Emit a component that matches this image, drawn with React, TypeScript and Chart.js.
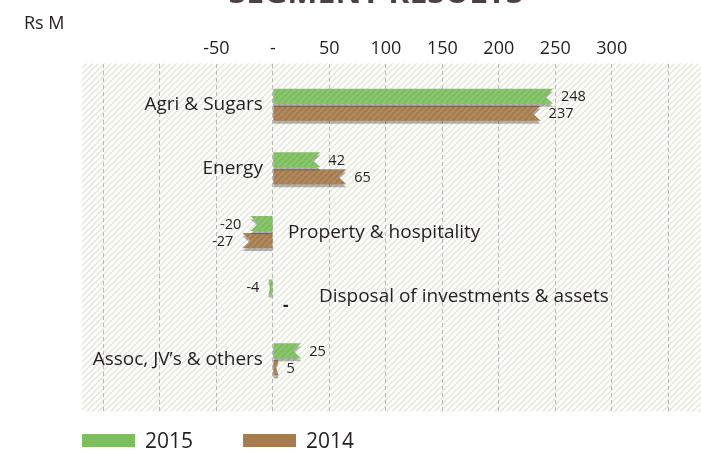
import React, { useEffect, useRef } from 'react';
import { Chart, registerables } from 'chart.js';

Chart.register(...registerables);

// ---- data ----
const titleText = 'SEGMENT RESULTS';
const unitLabel = 'Rs M';
const categories = [
  'Agri & Sugars',
  'Energy',
  'Property & hospitality',
  'Disposal of investments & assets',
  'Assoc, JV\u2019s & others',
];
const seriesLabels = ['2015', '2014'];
const values2015 = [248, 42, -20, -4, 25];
const values2014 = [237, 65, -27, 0, 5];
const gridTickValues = [-150, -100, -50, 0, 50, 100, 150, 200, 250, 300, 350];
const labelledTickValues = [-50, 0, 50, 100, 150, 200, 250, 300];

// ---- style ----
const FONT = '"Open Sans", "Noto Sans", sans-serif';
const TEXT = '#231f20';
const COLORS = ['#7dbf5f', '#a67c4f'];

function makeHatch(color: string, size: number, width: number, bg?: string) {
  const c = document.createElement('canvas');
  c.width = size;
  c.height = size;
  const g = c.getContext('2d')!;
  if (bg) {
    g.fillStyle = bg;
    g.fillRect(0, 0, size, size);
  }
  g.strokeStyle = color;
  g.lineWidth = width;
  g.beginPath();
  g.moveTo(-1, size + 1);
  g.lineTo(size + 1, -1);
  g.moveTo(-1, 1);
  g.lineTo(1, -1);
  g.moveTo(size - 1, size + 1);
  g.lineTo(size + 1, size - 1);
  g.stroke();
  return c;
}

function fmt(v: number) {
  return v === 0 ? '-' : String(v);
}

const decorPlugin = {
  id: 'decor',
  beforeDraw(chart: any) {
    const { ctx, chartArea: a } = chart;
    ctx.save();
    const pat = ctx.createPattern(makeHatch('#e3e6d3', 6, 1.4, '#ffffff'), 'repeat');
    ctx.fillStyle = pat;
    ctx.fillRect(a.left, a.top, a.right - a.left, a.bottom - a.top);

    // title (cut off at the top like the reference)
    ctx.fillStyle = '#4b4143';
    ctx.font = `bold 32px ${FONT}`;
    ctx.textAlign = 'center';
    ctx.textBaseline = 'alphabetic';
    ctx.fillText(titleText, 376, 3);

    // unit label
    ctx.fillStyle = TEXT;
    ctx.font = `18px ${FONT}`;
    ctx.textAlign = 'left';
    ctx.textBaseline = 'middle';
    ctx.fillText(unitLabel, 24, 24);

    // legend
    ctx.font = `21px ${FONT}`;
    let x = a.left;
    chart.data.datasets.forEach((ds: any) => {
      ctx.fillStyle = ds.backgroundColor;
      ctx.fillRect(x, 434, 53, 13);
      ctx.fillStyle = TEXT;
      ctx.fillText(ds.label, x + 63, 442);
      x += 53 + 10 + ctx.measureText(ds.label).width + 50;
    });
    ctx.restore();
  },
  beforeDatasetsDraw(chart: any) {
    const { ctx } = chart;
    const xScale = chart.scales.x;
    const yScale = chart.scales.y;
    const zero = xScale.getPixelForValue(0);
    const inner = ctx.createPattern(makeHatch('rgba(255,255,255,0.14)', 6, 1.5), 'repeat');
    ctx.save();
    // draw 2014 first so the 2015 shadow falls onto it
    for (let d = chart.data.datasets.length - 1; d >= 0; d--) {
      const meta = chart.getDatasetMeta(d);
      const color = chart.data.datasets[d].backgroundColor;
      meta.data.forEach((el: any) => {
        const { x, y, base, height } = el.getProps(['x', 'y', 'base', 'height'], true);
        const len = Math.abs(x - base);
        if (len < 0.5) return;
        const dir = x >= base ? 1 : -1;
        const h = height - 2;
        const top = y - h / 2;
        const bot = y + h / 2;
        const notch = Math.min(8, len * 0.5);
        const path = () => {
          ctx.beginPath();
          ctx.moveTo(base, top);
          ctx.lineTo(x, top);
          ctx.lineTo(x - dir * notch, y);
          ctx.lineTo(x, bot);
          ctx.lineTo(base, bot);
          ctx.closePath();
        };
        ctx.save();
        ctx.shadowColor = 'rgba(0,0,0,0.3)';
        ctx.shadowOffsetX = 0;
        ctx.shadowOffsetY = 3;
        ctx.shadowBlur = 1;
        path();
        ctx.fillStyle = color;
        ctx.fill();
        ctx.restore();
        path();
        ctx.fillStyle = inner;
        ctx.fill();
      });
    }
    // value labels
    ctx.fillStyle = TEXT;
    ctx.textBaseline = 'middle';
    chart.data.datasets.forEach((ds: any, d: number) => {
      const meta = chart.getDatasetMeta(d);
      meta.data.forEach((el: any, i: number) => {
        const v = ds.data[i].x;
        const { x, y, base } = el.getProps(['x', 'y', 'base'], true);
        ctx.font = `14.5px ${FONT}`;
        if (v > 0) {
          ctx.textAlign = 'left';
          ctx.fillText(fmt(v), x + 8, y + 1);
        } else if (v < 0) {
          ctx.textAlign = 'right';
          ctx.fillText(fmt(v), x - 9, y + 1);
        } else {
          ctx.font = `bold 17px ${FONT}`;
          ctx.textAlign = 'left';
          ctx.fillText(fmt(v), base + 10, y + 2);
        }
      });
    });
    // category labels
    ctx.font = `19px ${FONT}`;
    categories.forEach((name, i) => {
      const y = yScale.getPixelForValue(i);
      const vals = chart.data.datasets.map((ds: any) => ds.data[i].x);
      if (vals.some((v: number) => v > 0)) {
        ctx.textAlign = 'right';
        ctx.fillText(name, zero - 10, y);
      } else {
        ctx.textAlign = 'left';
        const shift = vals.some((v: number) => v === 0) ? 46 : 15;
        ctx.fillText(name, zero + shift, y + 1);
      }
    });
    ctx.restore();
    return false;
  },
};

export default function App() {
  const ref = useRef<HTMLCanvasElement | null>(null);
  useEffect(() => {
    if (!ref.current) return;
    const chart = new Chart(ref.current, {
      type: 'bar',
      data: {
        datasets: [
          {
            label: seriesLabels[0],
            data: values2015.map((v, i) => ({ x: v, y: i })),
            backgroundColor: COLORS[0],
          },
          {
            label: seriesLabels[1],
            data: values2014.map((v, i) => ({ x: v, y: i })),
            backgroundColor: COLORS[1],
          },
        ],
      },
      options: {
        animation: false,
        responsive: true,
        maintainAspectRatio: false,
        indexAxis: 'y',
        barThickness: 17,
        layout: { padding: { left: 82, right: 0, top: 35, bottom: 41.5 } },
        plugins: {
          legend: { display: false },
          tooltip: { enabled: false },
          title: { display: false },
        },
        scales: {
          x: {
            type: 'linear',
            position: 'top',
            min: -169,
            max: 379,
            afterBuildTicks: (axis: any) => {
              axis.ticks = gridTickValues.map((v) => ({ value: v }));
            },
            ticks: {
              autoSkip: false,
              maxRotation: 0,
              padding: 3.5,
              color: TEXT,
              font: { family: FONT, size: 18 },
              callback: (v: any) => (labelledTickValues.includes(Number(v)) ? fmt(Number(v)) : ''),
            },
            grid: { color: '#b9b9b9', lineWidth: 1, drawTicks: false },
            border: { display: false, dash: [4, 3] },
          },
          y: {
            type: 'linear',
            offset: false,
            min: -0.646,
            max: 4.821,
            reverse: true,
            display: false,
            afterBuildTicks: (axis: any) => {
              axis.ticks = categories.map((_, i) => ({ value: i }));
            },
          },
        },
      } as any,
      plugins: [decorPlugin as any],
    });
    return () => chart.destroy();
  }, []);
  return (
    <div style={{ position: 'fixed', left: 0, top: 0, width: 701, height: 453 }}>
      <canvas ref={ref} />
    </div>
  );
}
